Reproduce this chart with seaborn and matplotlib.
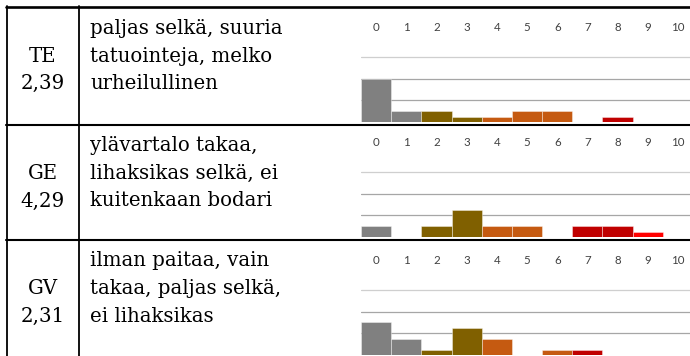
import matplotlib
matplotlib.use('Agg')
import matplotlib.pyplot as plt
import seaborn as sns
import pandas as pd
from matplotlib.lines import Line2D

# ---------------- data ----------------
scores = list(range(11))
score_labels = [str(s) for s in scores]
codes = ['TE', 'GE', 'GV']
means = ['2,39', '4,29', '2,31']
desc_te = ['paljas selkä, suuria', 'tatuointeja, melko', 'urheilullinen']
desc_ge = ['ylävartalo takaa,', 'lihaksikas selkä, ei', 'kuitenkaan bodari']
desc_gv = ['ilman paitaa, vain', 'takaa, paljas selkä,', 'ei lihaksikas']
counts_te = [8, 2, 2, 1, 1, 2, 2, 0, 1, 0, 0]
counts_ge = [2, 0, 2, 5, 2, 2, 0, 2, 2, 1, 0]
counts_gv = [6, 3, 1, 5, 3, 0, 1, 1, 0, 0, 0]
bar_colors = ['#808080', '#808080', '#806000', '#806000', '#C55A11', '#C55A11',
              '#C55A11', '#C00000', '#C00000', '#FF0000', '#FF0000']

descriptions = [desc_te, desc_ge, desc_gv]
all_counts = [counts_te, counts_ge, counts_gv]

# ---------------- layout ----------------
W, H = 690, 356
sns.set_theme(style='white')
plt.rcParams['font.family'] = ['DejaVu Serif', 'Liberation Serif']

fig = plt.figure(figsize=(W / 100, H / 100), dpi=100)
fig.patch.set_facecolor('white')

def fx(x):
    return x / W

def fy(y):
    return 1 - y / H

row_tops = [7, 124.5, 240]
baselines = [122, 237, 355]
px_per_unit = 5.42
ytop = 15.2

# table lines
for yt in row_tops:
    lw = 1.9 if yt == row_tops[0] else 1.5
    fig.add_artist(Line2D([fx(5.5), fx(690)], [fy(yt), fy(yt)], color='black', lw=lw))
for xv in [6.5, 79]:
    fig.add_artist(Line2D([fx(xv), fx(xv)], [fy(6), fy(357)], color='black', lw=1.3))

txt_size = 14.2
for i in range(3):
    top = row_tops[i]
    offs = [26.5, 54.5, 82]
    fig.text(fx(42.8), fy(top + offs[1]), codes[i], ha='center', va='baseline',
             fontsize=txt_size, color='black')
    fig.text(fx(42.8), fy(top + offs[2]), means[i], ha='center', va='baseline',
             fontsize=txt_size, color='black')
    for j, line in enumerate(descriptions[i]):
        fig.text(fx(90), fy(top + offs[j]), line, ha='left', va='baseline',
                 fontsize=txt_size, color='black')

# charts
for i in range(3):
    b = baselines[i]
    h = ytop * px_per_unit
    ax = fig.add_axes([fx(361), fy(b), fx(690) - fx(361), h / H])
    df = pd.DataFrame({'score': score_labels, 'count': all_counts[i]})
    sns.barplot(data=df, x='score', y='count', hue='score', order=score_labels,
                hue_order=score_labels, palette=bar_colors, legend=False,
                width=1.0, dodge=False, ax=ax, edgecolor=(1, 1, 1, 0.45),
                linewidth=0.6, saturation=1)
    ax.set_xlim(-0.5, 10.4)
    ax.set_ylim(0, ytop)
    ax.set_yticks([4, 8, 12])
    ax.set_yticklabels([])
    ax.tick_params(axis='y', length=0, left=False)
    ax.yaxis.grid(True, color='#A6A6A6', lw=0.9)
    gls = ax.get_ygridlines()
    gls[-1].set_color('#CFCFCF')
    ax.xaxis.grid(False)
    ax.set_axisbelow(True)
    ax.xaxis.tick_top()
    ax.set_xticks(range(11))
    ax.set_xticklabels(score_labels, fontsize=8.3, color='#404040',
                       family=['Lato', 'DejaVu Sans'])
    ax.tick_params(axis='x', length=0, pad=4.5, top=False, bottom=False,
                   labeltop=True, labelbottom=False)
    ax.set_xlabel('')
    ax.set_ylabel('')
    for s in ax.spines.values():
        s.set_visible(False)
    ax.patch.set_alpha(0)

fig.savefig('out.png', dpi=100, facecolor='white')
